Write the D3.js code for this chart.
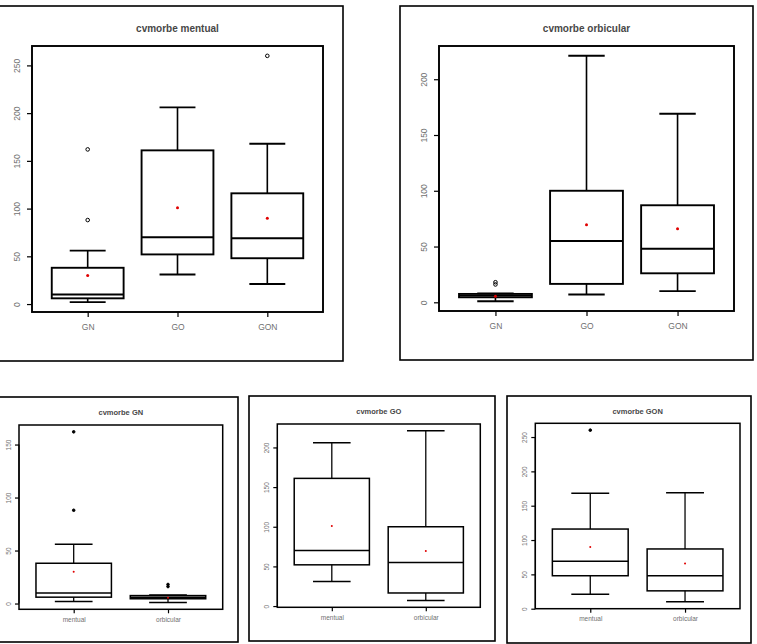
<!DOCTYPE html>
<html>
<head>
<meta charset="utf-8">
<script src="https://cdn.jsdelivr.net/npm/d3@7"></script>
<style>
  html, body { margin: 0; padding: 0; background: #fff; }
  svg { display: block; }
  text { font-family: "Liberation Sans", Arial, sans-serif; }
</style>
</head>
<body>
<svg id="chart" width="757" height="644"></svg>
<script>
// ---------------- DATA ----------------
const groups = ["GN", "GO", "GON"];
const variables = ["mentual", "orbicular"];

// cvmorbe mentual, per group (GN, GO, GON)
const mentualLow     = [2, 31, 21];
const mentualQ1      = [6, 52, 48];
const mentualMedian  = [10, 70, 69];
const mentualQ3      = [38, 161, 116];
const mentualHigh    = [56, 206, 168];
const mentualMean    = [30, 101, 90];
const mentualOutliers = [[88, 162], [], [260]];

// cvmorbe orbicular, per group (GN, GO, GON)
const orbicularLow     = [1, 7, 10];
const orbicularQ1      = [4.5, 16.5, 26];
const orbicularMedian  = [6, 55, 48];
const orbicularQ3      = [7.5, 100, 87];
const orbicularHigh    = [8, 221, 169];
const orbicularMean    = [5.5, 69.5, 66];
const orbicularOutliers = [[16, 18], [], []];

// tick labels
const ticksMentual   = [0, 50, 100, 150, 200, 250];
const ticksOrbicular = [0, 50, 100, 150, 200];
const ticksGN  = [0, 50, 100, 150];
const ticksGO  = [0, 50, 100, 150, 200];
const ticksGON = [0, 50, 100, 150, 200, 250];

// ---------------- BUILD ----------------
function stat(arrs, i) {
  const [low, q1, med, q3, high, mean, out] = arrs;
  return { low: low[i], q1: q1[i], med: med[i], q3: q3[i], high: high[i], mean: mean[i], out: out[i] };
}
const M = [mentualLow, mentualQ1, mentualMedian, mentualQ3, mentualHigh, mentualMean, mentualOutliers];
const O = [orbicularLow, orbicularQ1, orbicularMedian, orbicularQ3, orbicularHigh, orbicularMean, orbicularOutliers];

const panels = [
  { title: "cvmorbe mentual", labels: groups, boxes: groups.map((g, i) => stat(M, i)), ticks: ticksMentual,
    frame: [-2, 6, 343, 361], plot: [32, 46, 323, 312], big: true },
  { title: "cvmorbe orbicular", labels: groups, boxes: groups.map((g, i) => stat(O, i)), ticks: ticksOrbicular,
    frame: [400, 6, 753, 360], plot: [439, 46, 734, 311], big: true },
  { title: "cvmorbe GN", labels: variables, boxes: [stat(M, 0), stat(O, 0)], ticks: ticksGN,
    frame: [-2, 397, 238, 642], plot: [19, 425, 222.7, 609.3], big: false },
  { title: "cvmorbe GO", labels: variables, boxes: [stat(M, 1), stat(O, 1)], ticks: ticksGO,
    frame: [249, 396, 495, 641], plot: [277.3, 424, 480.3, 607.3], big: false },
  { title: "cvmorbe GON", labels: variables, boxes: [stat(M, 2), stat(O, 2)], ticks: ticksGON,
    frame: [507, 396, 751, 643], plot: [535.3, 423.3, 740, 608.7], big: false }
];

const svg = d3.select("#chart");

panels.forEach(p => {
  const g = svg.append("g");
  const [fx0, fy0, fx1, fy1] = p.frame;
  const [px0, py0, px1, py1] = p.plot;
  const n = p.boxes.length;

  // outer frame
  g.append("rect").attr("x", fx0).attr("y", fy0).attr("width", fx1 - fx0).attr("height", fy1 - fy0)
    .attr("fill", "none").attr("stroke", "#000").attr("stroke-width", 1.6);

  // scales (R-style 4% extension)
  const allVals = p.boxes.flatMap(b => [b.low, b.high, ...b.out]);
  const lo = d3.min(allVals), hi = d3.max(allVals);
  const ext = (hi - lo) * 0.04;
  const y = d3.scaleLinear().domain([lo - ext, hi + ext]).range([py1, py0]);
  const xext = n * 0.04;
  const x = d3.scaleLinear().domain([0.5 - xext, n + 0.5 + xext]).range([px0, px1]);
  const bw = (x(2) - x(1)) * 0.8;

  const fsTick = p.big ? 8.5 : 6.5;
  const fsTitle = p.big ? 10 : 7.5;
  const lw = p.big ? 1.9 : 1.5;

  // title
  g.append("text").attr("x", (px0 + px1) / 2).attr("y", (p.big ? fy0 + 26 : fy0 + 18))
    .attr("text-anchor", "middle").attr("font-size", fsTitle).attr("font-weight", "bold")
    .attr("fill", "#474747").text(p.title);

  // y axis
  const yAxis = d3.axisLeft(y).tickValues(p.ticks).tickSize(p.big ? 5 : 4);
  const ya = g.append("g").attr("transform", `translate(${px0},0)`).call(yAxis);
  ya.select(".domain").attr("stroke", "#000").attr("stroke-width", 1.2)
    .attr("d", `M0,${y(p.ticks[0])}V${y(p.ticks[p.ticks.length - 1])}`);
  ya.selectAll(".tick line").attr("stroke", "#000").attr("stroke-width", 1.2);
  ya.selectAll(".tick text")
    .attr("font-size", fsTick).attr("fill", "#707070")
    .attr("font-family", "Liberation Sans, Arial, sans-serif")
    .attr("text-anchor", "middle")
    .attr("transform", "rotate(-90)")
    .attr("x", 0).attr("dy", 0)
    .attr("y", p.big ? -12 : -8);

  // x axis
  const xAxis = d3.axisBottom(x).tickValues(d3.range(1, n + 1)).tickFormat((d, i) => p.labels[i])
    .tickSize(p.big ? 5 : 4).tickPadding(p.big ? 7 : 4);
  const xa = g.append("g").attr("transform", `translate(0,${py1})`).call(xAxis);
  xa.select(".domain").remove();
  xa.selectAll(".tick line").attr("stroke", "#000").attr("stroke-width", 1.2);
  xa.selectAll(".tick text").attr("font-size", fsTick).attr("fill", "#707070")
    .attr("font-family", "Liberation Sans, Arial, sans-serif");

  // plot box frame
  g.append("rect").attr("x", px0).attr("y", py0).attr("width", px1 - px0).attr("height", py1 - py0)
    .attr("fill", "none").attr("stroke", "#000").attr("stroke-width", lw);

  // boxes
  p.boxes.forEach((b, i) => {
    const cx = x(i + 1);
    const bg = g.append("g");
    bg.append("line").attr("x1", cx).attr("x2", cx).attr("y1", y(b.q3)).attr("y2", y(b.high))
      .attr("stroke", "#000").attr("stroke-width", lw * 0.85);
    bg.append("line").attr("x1", cx).attr("x2", cx).attr("y1", y(b.q1)).attr("y2", y(b.low))
      .attr("stroke", "#000").attr("stroke-width", lw * 0.85);
    [b.high, b.low].forEach(v => {
      bg.append("line").attr("x1", cx - bw / 4).attr("x2", cx + bw / 4).attr("y1", y(v)).attr("y2", y(v))
        .attr("stroke", "#000").attr("stroke-width", lw);
    });
    bg.append("rect").attr("x", cx - bw / 2).attr("y", y(b.q3)).attr("width", bw)
      .attr("height", y(b.q1) - y(b.q3)).attr("fill", "none").attr("stroke", "#000").attr("stroke-width", lw);
    bg.append("line").attr("x1", cx - bw / 2).attr("x2", cx + bw / 2).attr("y1", y(b.med)).attr("y2", y(b.med))
      .attr("stroke", "#000").attr("stroke-width", lw);
    b.out.forEach(v => {
      bg.append("circle").attr("cx", cx).attr("cy", y(v)).attr("r", p.big ? 1.8 : 1.3)
        .attr("fill", p.big ? "none" : "#000").attr("stroke", "#000").attr("stroke-width", 1);
    });
    bg.append("circle").attr("cx", cx).attr("cy", y(b.mean)).attr("r", p.big ? 1.5 : 1)
      .attr("fill", "#e00000");
  });
});
</script>
</body>
</html>
